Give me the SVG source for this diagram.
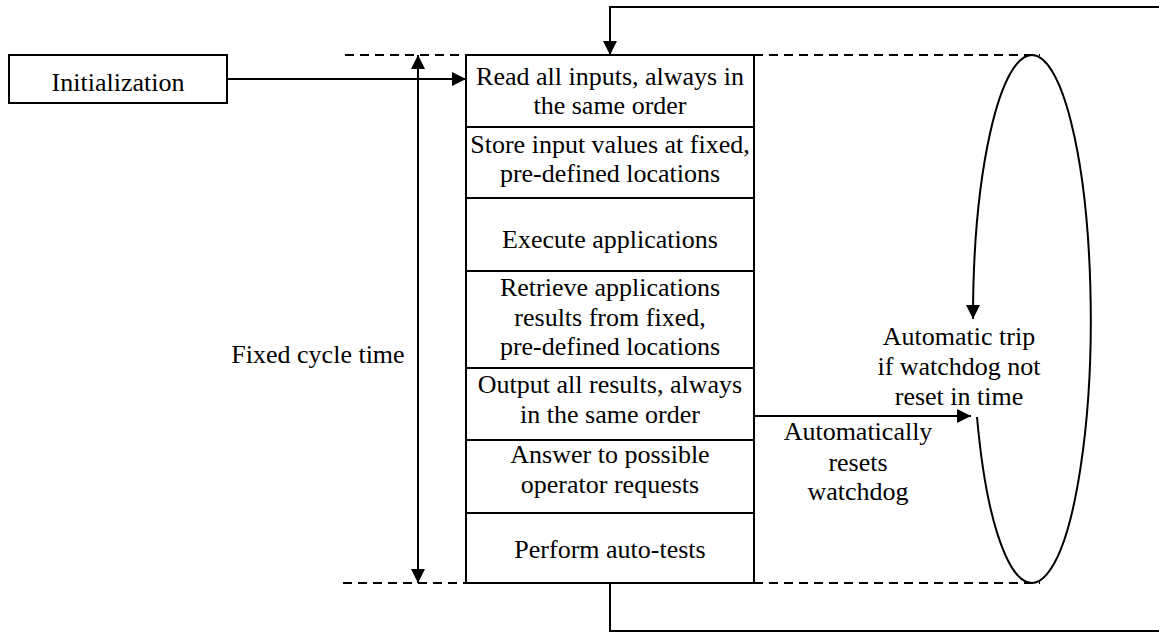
<svg xmlns="http://www.w3.org/2000/svg" width="1159" height="632" viewBox="0 0 1159 632">
  <style>
    .box { fill: #fff; stroke: #000; stroke-width: 2; }
    .ln { fill: none; stroke: #000; stroke-width: 2; }
    .dash { fill: none; stroke: #000; stroke-width: 2; stroke-dasharray: 9 6; }
    text { font-family: "Liberation Serif", "Times New Roman", serif; font-size: 26px; fill: #000; text-anchor: middle; }
  </style>
  <defs>
    <marker id="arrow" viewBox="0 0 14 14" refX="14" refY="7" markerWidth="14" markerHeight="14" markerUnits="userSpaceOnUse" orient="auto">
      <path d="M0,0 L14,7 L0,14 Z" fill="#000"/>
    </marker>
  </defs>

  <!-- cycle boundary guides -->
  <g id="guides">
    <line class="dash" x1="345" y1="55" x2="466" y2="55"/>
    <line class="dash" x1="754" y1="55" x2="1040" y2="55"/>
    <line class="dash" x1="343" y1="583" x2="466" y2="583"/>
    <line class="dash" x1="754" y1="583" x2="1040" y2="583"/>
  </g>

  <g id="init">
    <rect class="box" x="9" y="55" width="218" height="48"/>
    <text x="118" y="91">Initialization</text>
  </g>

  <g id="step-read">
    <rect class="box" x="466" y="55" width="288" height="72"/>
    <text x="610" y="85">Read all inputs, always in</text>
    <text x="610" y="114">the same order</text>
  </g>
  <g id="step-store">
    <rect class="box" x="466" y="127" width="288" height="71"/>
    <text x="610" y="153">Store input values at fixed,</text>
    <text x="610" y="182">pre-defined locations</text>
  </g>
  <g id="step-execute">
    <rect class="box" x="466" y="198" width="288" height="73"/>
    <text x="610" y="248">Execute applications</text>
  </g>
  <g id="step-retrieve">
    <rect class="box" x="466" y="271" width="288" height="97"/>
    <text x="610" y="296">Retrieve applications</text>
    <text x="610" y="326">results from fixed,</text>
    <text x="610" y="355">pre-defined locations</text>
  </g>
  <g id="step-output">
    <rect class="box" x="466" y="368" width="288" height="72"/>
    <text x="610" y="393">Output all results, always</text>
    <text x="610" y="423">in the same order</text>
  </g>
  <g id="step-answer">
    <rect class="box" x="466" y="440" width="288" height="73"/>
    <text x="610" y="463">Answer to possible</text>
    <text x="610" y="493">operator requests</text>
  </g>
  <g id="step-autotest">
    <rect class="box" x="466" y="513" width="288" height="70"/>
    <text x="610" y="558">Perform auto-tests</text>
  </g>

  <g id="cycle-time">
    <text x="318" y="363">Fixed cycle time</text>
  </g>

  <g id="watchdog-trip">
    <text x="959" y="345">Automatic trip</text>
    <text x="959" y="375">if watchdog not</text>
    <text x="959" y="405">reset in time</text>
  </g>

  <g id="watchdog-reset">
    <text x="858" y="440">Automatically</text>
    <text x="858" y="471">resets</text>
    <text x="858" y="500">watchdog</text>
  </g>

  <g id="connectors">
    <!-- initialization into first step -->
    <line class="ln" x1="227" y1="79" x2="466" y2="79" marker-end="url(#arrow)"/>
    <!-- fixed cycle time span -->
    <line class="ln" x1="418" y1="300" x2="418" y2="55" marker-end="url(#arrow)"/>
    <line class="ln" x1="418" y1="300" x2="418" y2="583" marker-end="url(#arrow)"/>
    <!-- loop back from last step to first -->
    <polyline class="ln" points="610,583 610,631 1159,631"/>
    <polyline class="ln" points="1159,7 610,7 610,55" marker-end="url(#arrow)"/>
    <!-- output resets watchdog -->
    <line class="ln" x1="754" y1="416" x2="971" y2="416" marker-end="url(#arrow)"/>
    <!-- watchdog timer loop -->
    <path class="ln" d="M977,417 A59,264 0 1,0 1032,55 A59,264 0 0,0 973,319" marker-end="url(#arrow)"/>
  </g>
</svg>
